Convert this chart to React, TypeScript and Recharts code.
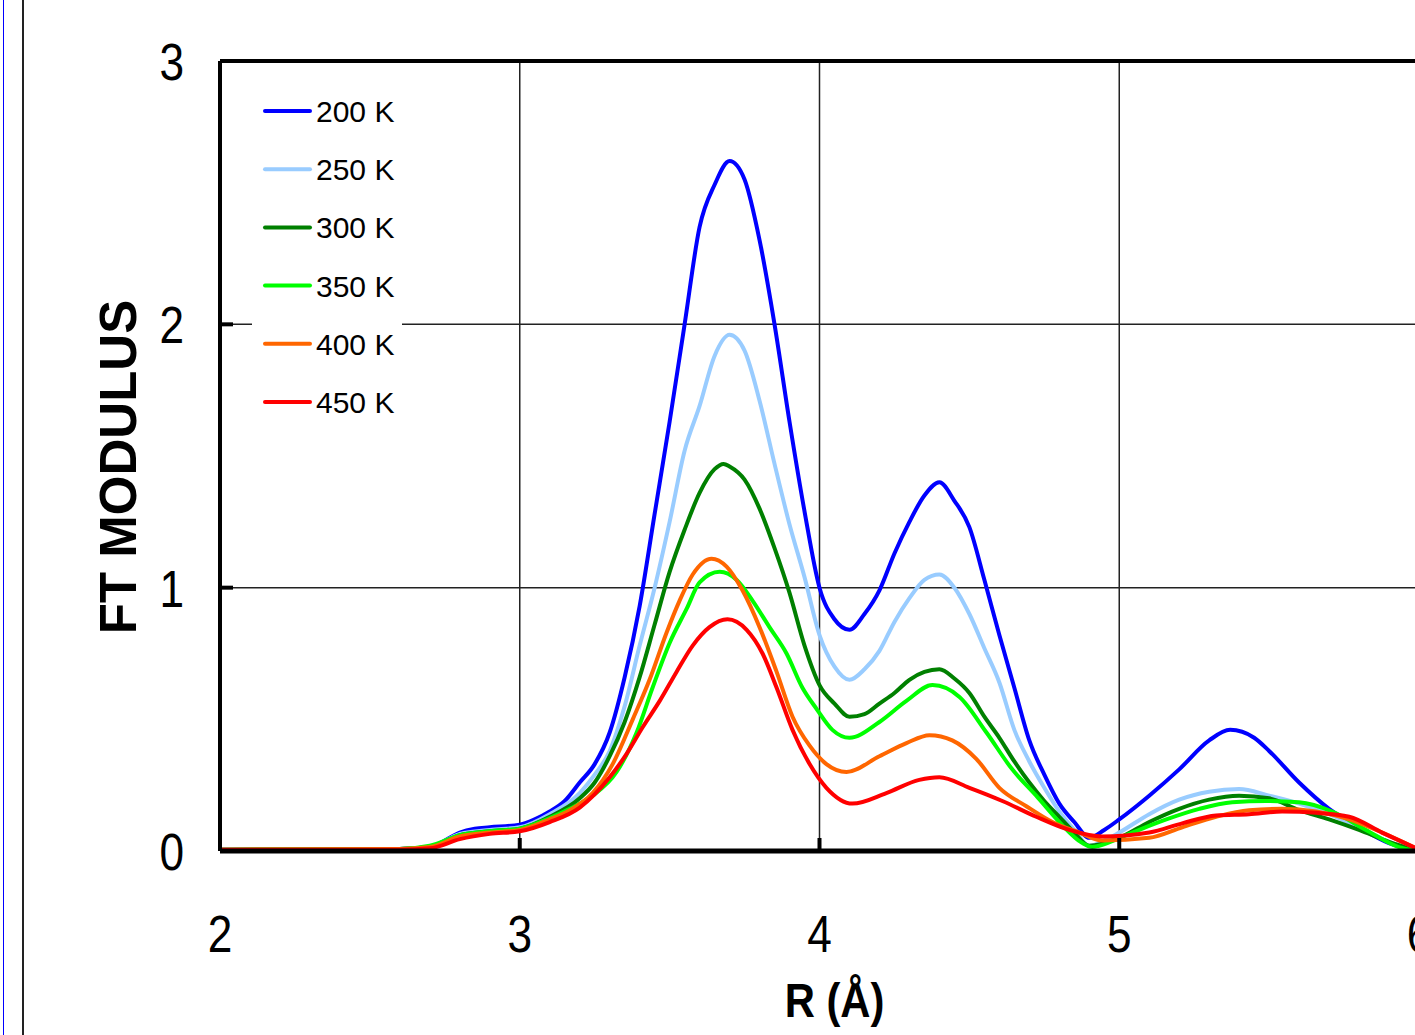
import React from 'react';
import { LineChart, Line, XAxis, YAxis, CartesianGrid, Legend, ReferenceLine } from 'recharts';

const xTicks = [2, 3, 4, 5, 6];
const yTicks = [0, 1, 2, 3];

const s200: [number, number][] = [
  [2.0, 0.005], [2.3, 0.005], [2.6, 0.008], [2.7, 0.015], [2.75, 0.04], [2.8, 0.07], [2.85, 0.085], [2.9, 0.09],
  [3.0, 0.1], [3.05, 0.12], [3.1, 0.15], [3.15, 0.19], [3.2, 0.26], [3.25, 0.33], [3.3, 0.45], [3.35, 0.66],
  [3.4, 0.93], [3.45, 1.28], [3.5, 1.63], [3.55, 2.0], [3.6, 2.37], [3.65, 2.53], [3.7, 2.62], [3.75, 2.55],
  [3.8, 2.32], [3.85, 2.0], [3.9, 1.63], [3.95, 1.29], [4.0, 1.0], [4.05, 0.88], [4.1, 0.84], [4.15, 0.9],
  [4.2, 0.99], [4.25, 1.13], [4.3, 1.25], [4.35, 1.35], [4.4, 1.4], [4.45, 1.33], [4.5, 1.23], [4.55, 1.03],
  [4.6, 0.82], [4.65, 0.62], [4.7, 0.42], [4.75, 0.29], [4.8, 0.18], [4.85, 0.11], [4.9, 0.05], [4.95, 0.08],
  [5.0, 0.12], [5.1, 0.21], [5.2, 0.31], [5.3, 0.42], [5.37, 0.46], [5.45, 0.43], [5.5, 0.38], [5.6, 0.26],
  [5.7, 0.16], [5.8, 0.09], [5.9, 0.03], [6.0, 0.0],
];

const s250: [number, number][] = [
  [2.0, 0.005], [2.6, 0.008], [2.7, 0.015], [2.8, 0.065], [2.9, 0.08], [3.0, 0.09], [3.1, 0.14], [3.2, 0.22],
  [3.25, 0.29], [3.3, 0.38], [3.35, 0.55], [3.4, 0.78], [3.45, 1.0], [3.5, 1.25], [3.55, 1.52], [3.6, 1.69],
  [3.65, 1.88], [3.7, 1.96], [3.75, 1.9], [3.8, 1.71], [3.85, 1.47], [3.9, 1.24], [3.95, 1.04], [4.0, 0.82],
  [4.05, 0.7], [4.1, 0.65], [4.15, 0.69], [4.2, 0.76], [4.25, 0.87], [4.3, 0.96], [4.35, 1.03], [4.4, 1.05],
  [4.45, 1.0], [4.5, 0.9], [4.55, 0.77], [4.6, 0.64], [4.65, 0.46], [4.7, 0.34], [4.75, 0.24], [4.8, 0.15],
  [4.85, 0.08], [4.9, 0.02], [4.95, 0.04], [5.0, 0.07], [5.1, 0.14], [5.2, 0.195], [5.3, 0.225], [5.4, 0.235],
  [5.5, 0.21], [5.6, 0.18], [5.7, 0.14], [5.8, 0.09], [5.9, 0.035], [6.0, 0.0],
];

const s300: [number, number][] = [
  [2.0, 0.005], [2.6, 0.008], [2.7, 0.015], [2.8, 0.06], [2.9, 0.075], [3.0, 0.085], [3.1, 0.13], [3.2, 0.2],
  [3.25, 0.26], [3.3, 0.36], [3.35, 0.49], [3.4, 0.66], [3.45, 0.86], [3.5, 1.06], [3.55, 1.22], [3.6, 1.36],
  [3.65, 1.45], [3.68, 1.47], [3.7, 1.46], [3.75, 1.41], [3.8, 1.3], [3.85, 1.15], [3.9, 0.98], [3.95, 0.78],
  [4.0, 0.63], [4.05, 0.56], [4.1, 0.51], [4.15, 0.52], [4.2, 0.56], [4.25, 0.6], [4.3, 0.65], [4.35, 0.68],
  [4.4, 0.69], [4.45, 0.655], [4.5, 0.6], [4.55, 0.51], [4.6, 0.43], [4.65, 0.34], [4.7, 0.26], [4.75, 0.19],
  [4.8, 0.13], [4.85, 0.07], [4.9, 0.02], [5.0, 0.05], [5.1, 0.11], [5.2, 0.16], [5.3, 0.195], [5.4, 0.21],
  [5.5, 0.2], [5.6, 0.155], [5.7, 0.12], [5.8, 0.08], [5.9, 0.035], [6.0, 0.0],
];

const s350: [number, number][] = [
  [2.0, 0.005], [2.6, 0.008], [2.7, 0.02], [2.8, 0.06], [2.9, 0.075], [3.0, 0.085], [3.1, 0.125], [3.167, 0.16],
  [3.243, 0.21], [3.323, 0.3], [3.39, 0.45], [3.443, 0.62], [3.5, 0.79], [3.557, 0.92], [3.6, 1.02], [3.667, 1.06],
  [3.723, 1.03], [3.777, 0.95], [3.833, 0.85], [3.89, 0.75], [3.943, 0.62], [3.99, 0.54], [4.043, 0.46], [4.1, 0.43],
  [4.2, 0.49], [4.29, 0.57], [4.377, 0.63], [4.467, 0.585], [4.557, 0.45], [4.643, 0.31], [4.723, 0.21], [4.8, 0.11],
  [4.877, 0.03], [4.91, 0.015], [4.933, 0.02], [5.043, 0.07], [5.157, 0.12], [5.267, 0.16], [5.377, 0.185], [5.49, 0.19],
  [5.6, 0.185], [5.71, 0.15], [5.823, 0.08], [5.933, 0.015], [6.0, 0.0],
];

const s400: [number, number][] = [
  [2.0, 0.005], [2.6, 0.008], [2.7, 0.015], [2.8, 0.055], [2.9, 0.07], [3.0, 0.08], [3.1, 0.12], [3.167, 0.155],
  [3.243, 0.22], [3.31, 0.33], [3.377, 0.5], [3.433, 0.65], [3.49, 0.83], [3.533, 0.95], [3.577, 1.05], [3.64, 1.11],
  [3.69, 1.08], [3.743, 0.99], [3.8, 0.85], [3.857, 0.68], [3.91, 0.51], [3.967, 0.4], [4.023, 0.33], [4.09, 0.3],
  [4.2, 0.36], [4.29, 0.41], [4.367, 0.44], [4.443, 0.42], [4.523, 0.35], [4.6, 0.24], [4.69, 0.17], [4.777, 0.11],
  [4.867, 0.07], [4.943, 0.04], [5.1, 0.05], [5.21, 0.09], [5.323, 0.13], [5.433, 0.155], [5.543, 0.16], [5.657, 0.15],
  [5.767, 0.12], [5.877, 0.07], [6.0, 0.005],
];

const s450: [number, number][] = [
  [2.0, 0.005], [2.6, 0.005], [2.7, 0.01], [2.8, 0.045], [2.9, 0.065], [3.0, 0.075], [3.1, 0.11], [3.2, 0.165],
  [3.3, 0.28], [3.357, 0.37], [3.41, 0.47], [3.467, 0.57], [3.523, 0.68], [3.577, 0.78], [3.633, 0.85], [3.693, 0.88],
  [3.757, 0.84], [3.81, 0.75], [3.857, 0.62], [3.91, 0.46], [3.967, 0.33], [4.023, 0.24], [4.11, 0.18], [4.223, 0.22],
  [4.333, 0.27], [4.4, 0.28], [4.5, 0.24], [4.61, 0.19], [4.723, 0.13], [4.833, 0.08], [4.943, 0.055], [5.1, 0.07],
  [5.21, 0.105], [5.323, 0.135], [5.433, 0.14], [5.543, 0.15], [5.657, 0.145], [5.767, 0.13], [5.877, 0.07], [6.0, 0.005],
];

const seriesNames = ['200 K', '250 K', '300 K', '350 K', '400 K', '450 K'];
const seriesColors = ['#0000FF', '#99CCFF', '#008000', '#00FF00', '#FF6600', '#FF0000'];
const seriesValues = [s200, s250, s300, s350, s400, s450];

const toRows = (pairs: [number, number][]) => pairs.map(([r, v]) => ({ r, v }));

const FONT = '"Liberation Sans", Arial, sans-serif';

const XTick = (props: any) => {
  const { x, y, payload } = props;
  return (
    <g>
      <line x1={x} x2={x} y1={y} y2={y - 13} stroke="#000" strokeWidth={4} />
      <text
        transform={`translate(${x},${y + 101}) scale(0.85,1)`}
        textAnchor="middle"
        fontSize={52}
        fontFamily={FONT}
        fill="#000"
      >
        {payload.value}
      </text>
    </g>
  );
};

const YTick = (props: any) => {
  const { x, y, payload } = props;
  return (
    <g>
      <line x1={x} x2={x + 13} y1={y} y2={y} stroke="#000" strokeWidth={4} />
      <text
        transform={`translate(${x - 36},${y + 19}) scale(0.85,1)`}
        textAnchor="end"
        fontSize={52}
        fontFamily={FONT}
        fill="#000"
      >
        {payload.value}
      </text>
    </g>
  );
};

const XTitle = (props: any) => {
  const vb = props.viewBox || { x: 0, y: 0, width: 0, height: 0 };
  return (
    <text
      transform={`translate(${vb.x + vb.width / 2 + 15},${vb.y + 166}) scale(0.87,1)`}
      textAnchor="middle"
      fontSize={48}
      fontWeight="bold"
      fontFamily={FONT}
      fill="#000"
    >
      R (Å)
    </text>
  );
};

const YTitle = (props: any) => {
  const vb = props.viewBox || { x: 0, y: 0, width: 0, height: 0 };
  return (
    <text
      transform={`translate(136,${vb.y + vb.height / 2 + 11}) rotate(-90)`}
      textAnchor="middle"
      fontSize={51}
      fontWeight="bold"
      fontFamily={FONT}
      fill="#000"
    >
      FT MODULUS
    </text>
  );
};

const LegendContent = (props: any) => {
  const payload = props.payload || [];
  return (
    <svg width={150} height={350} style={{ display: 'block', background: '#fff' }}>
      {payload.map((p: any, i: number) => {
        const cy = 31 + i * 58.2;
        return (
          <g key={i}>
            <line x1={13} x2={58} y1={cy} y2={cy} stroke={p.color} strokeWidth={4} strokeLinecap="round" />
            <text x={64} y={cy + 11} fontSize={30} fontFamily={FONT} fill="#000">
              {p.value}
            </text>
          </g>
        );
      })}
    </svg>
  );
};

export default function App() {
  return (
    <div
      style={{
        position: 'absolute',
        left: 0,
        top: 0,
        width: 1415,
        height: 1035,
        overflow: 'hidden',
        background: '#fff',
      }}
    >
      <div style={{ position: 'absolute', left: 3, top: 0, width: 1, height: 1035, background: '#0000FF' }} />
      <div style={{ position: 'absolute', left: 22, top: 0, width: 2, height: 1035, background: '#222' }} />
      <LineChart
        width={1440}
        height={1035}
        margin={{ top: 61, right: 21, bottom: 0, left: 0 }}
        style={{ position: 'absolute', left: 0, top: 0 }}
      >
        <CartesianGrid stroke="#222" strokeWidth={1.5} />
        <XAxis
          type="number"
          dataKey="r"
          domain={[2, 6]}
          ticks={xTicks}
          allowDataOverflow
          height={184}
          axisLine={{ stroke: '#000', strokeWidth: 5 }}
          tickLine={false}
          tickSize={0}
          tickMargin={0}
          tick={<XTick />}
          label={<XTitle />}
          interval={0}
        />
        <YAxis
          type="number"
          domain={[0, 3]}
          ticks={yTicks}
          width={220}
          axisLine={{ stroke: '#000', strokeWidth: 4 }}
          tickLine={false}
          tickSize={0}
          tickMargin={0}
          tick={<YTick />}
          label={<YTitle />}
          interval={0}
        />
        <ReferenceLine y={3} stroke="#000" strokeWidth={4} />
        <Legend
          layout="vertical"
          verticalAlign="middle"
          align="center"
          content={<LegendContent />}
          wrapperStyle={{ position: 'absolute', left: 252, top: 80, width: 150, height: 350 }}
        />
        {seriesValues.map((vals, i) => (
          <Line
            key={seriesNames[i]}
            name={seriesNames[i]}
            data={toRows(vals)}
            dataKey="v"
            type="monotone"
            stroke={seriesColors[i]}
            strokeWidth={4}
            dot={false}
            activeDot={false}
            isAnimationActive={false}
          />
        ))}
      </LineChart>
    </div>
  );
}
